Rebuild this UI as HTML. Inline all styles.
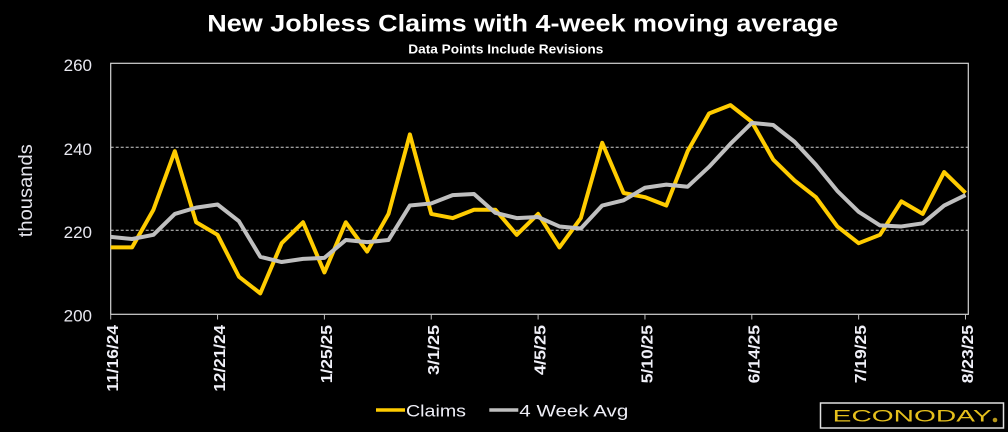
<!DOCTYPE html>
<html>
<head>
<meta charset="utf-8">
<style>
  html, body { margin:0; padding:0; background:#000; }
  body { width:1008px; height:432px; overflow:hidden; }
  svg { display:block; }
  text { font-family: "Liberation Sans", "DejaVu Sans", sans-serif; }
</style>
</head>
<body>
<svg width="1008" height="432" viewBox="0 0 1008 432" xmlns="http://www.w3.org/2000/svg">
  <rect x="0" y="0" width="1008" height="432" fill="#000"/>

  <!-- Title -->
  <text x="207.3" y="31.5" font-size="24" font-weight="bold" fill="#ffffff" textLength="631" lengthAdjust="spacingAndGlyphs">New Jobless Claims with 4-week moving average</text>
  <text x="408.3" y="53.3" font-size="12.5" font-weight="bold" fill="#ffffff" textLength="195" lengthAdjust="spacingAndGlyphs">Data Points Include Revisions</text>

  <!-- Gridlines -->
  <line x1="110.7" y1="147.3" x2="968.3" y2="147.3" stroke="#d0d0d0" stroke-width="1" stroke-dasharray="3,2"/>
  <line x1="110.7" y1="230.3" x2="968.3" y2="230.3" stroke="#d0d0d0" stroke-width="1" stroke-dasharray="3,2"/>

  <!-- Plot border -->
  <rect x="110.7" y="63.3" width="857.6" height="251" fill="none" stroke="#d4d4d4" stroke-width="1.2"/>

  <!-- Ticks -->
  <g stroke="#bfbfbf" stroke-width="1">
    <line x1="110.7" y1="314.3" x2="110.7" y2="319.5"/>
    <line x1="217.55" y1="314.3" x2="217.55" y2="319.5"/>
    <line x1="324.4" y1="314.3" x2="324.4" y2="319.5"/>
    <line x1="431.25" y1="314.3" x2="431.25" y2="319.5"/>
    <line x1="538.1" y1="314.3" x2="538.1" y2="319.5"/>
    <line x1="644.95" y1="314.3" x2="644.95" y2="319.5"/>
    <line x1="751.8" y1="314.3" x2="751.8" y2="319.5"/>
    <line x1="858.65" y1="314.3" x2="858.65" y2="319.5"/>
    <line x1="965.5" y1="314.3" x2="965.5" y2="319.5"/>
  </g>

  <!-- Y axis labels -->
  <g font-size="17" fill="#e8e8f0" text-anchor="end">
    <text x="92" y="70.8">260</text>
    <text x="92" y="154.8">240</text>
    <text x="92" y="237.8">220</text>
    <text x="92" y="321.3">200</text>
  </g>

  <!-- Y axis title -->
  <text transform="translate(32,190.7) rotate(-90)" text-anchor="middle" font-size="19.5" fill="#e4e4ec" textLength="93" lengthAdjust="spacingAndGlyphs">thousands</text>

  <!-- X axis labels -->
  <g font-size="16" font-weight="bold" fill="#f0f0f8" text-anchor="end">
    <text transform="translate(118.2,325) rotate(-90)" textLength="66.6" lengthAdjust="spacingAndGlyphs">11/16/24</text>
    <text transform="translate(225.05,325) rotate(-90)" textLength="66.6" lengthAdjust="spacingAndGlyphs">12/21/24</text>
    <text transform="translate(331.9,325) rotate(-90)" textLength="58.3" lengthAdjust="spacingAndGlyphs">1/25/25</text>
    <text transform="translate(438.75,325) rotate(-90)" textLength="50" lengthAdjust="spacingAndGlyphs">3/1/25</text>
    <text transform="translate(545.6,325) rotate(-90)" textLength="50" lengthAdjust="spacingAndGlyphs">4/5/25</text>
    <text transform="translate(652.45,325) rotate(-90)" textLength="58.3" lengthAdjust="spacingAndGlyphs">5/10/25</text>
    <text transform="translate(759.3,325) rotate(-90)" textLength="58.3" lengthAdjust="spacingAndGlyphs">6/14/25</text>
    <text transform="translate(866.15,325) rotate(-90)" textLength="58.3" lengthAdjust="spacingAndGlyphs">7/19/25</text>
    <text transform="translate(973,325) rotate(-90)" textLength="58.3" lengthAdjust="spacingAndGlyphs">8/23/25</text>
  </g>

  <!-- Series (data space transform) -->
  <g transform="matrix(21.37 0 0 -4.1833 110.7 1150.96)">
    <polyline fill="none" stroke="#FFCC00" stroke-width="4" stroke-linejoin="round" stroke-linecap="butt" vector-effect="non-scaling-stroke"
      points="0,216 1,216 2,225 3,239 4,222 5,219 6,209 7,205 8,217 9,222 10,210 11,222 12,215 13,224 14,243 15,224 16,223 17,225 18,225 19,219 20,224 21,216 22,223 23,241 24,229 25,228 26,226 27,239 28,248 29,250 30,246 31,237 32,232 33,228 34,221 35,217 36,219 37,227 38,224 39,234 40,229"/>
    <polyline fill="none" stroke="#BFBFBF" stroke-width="4" stroke-linejoin="round" stroke-linecap="butt" vector-effect="non-scaling-stroke"
      points="0,218.5 1,218 2,219 3,224 4,225.5 5,226.25 6,222.25 7,213.75 8,212.5 9,213.25 10,213.5 11,217.75 12,217.25 13,217.75 14,226 15,226.5 16,228.5 17,228.75 18,224.25 19,223 20,223.25 21,221 22,220.5 23,226 24,227.25 25,230.25 26,231 27,230.5 28,235.25 29,240.75 30,245.75 31,245.25 32,241.25 33,235.75 34,229.5 35,224.5 36,221.25 37,221 38,221.75 39,226 40,228.5"/>
  </g>

  <!-- Legend -->
  <line x1="376" y1="410" x2="405" y2="410" stroke="#FFCC00" stroke-width="3.5"/>
  <text x="406" y="416.7" font-size="17" fill="#eeeef6" textLength="60" lengthAdjust="spacingAndGlyphs">Claims</text>
  <line x1="489.3" y1="410" x2="518.3" y2="410" stroke="#BFBFBF" stroke-width="3.5"/>
  <text x="519.3" y="416.7" font-size="17" fill="#eeeef6" textLength="109" lengthAdjust="spacingAndGlyphs">4 Week Avg</text>

  <!-- Logo -->
  <rect x="820.5" y="403" width="183" height="25" fill="#000" stroke="#e0e0e0" stroke-width="1.5"/>
  <text x="832.7" y="421.7" font-size="17" fill="#E6C01C" textLength="159" lengthAdjust="spacingAndGlyphs">ECONODAY</text>
  <circle cx="995" cy="420" r="2.3" fill="#B8981A"/>
</svg>
</body>
</html>
